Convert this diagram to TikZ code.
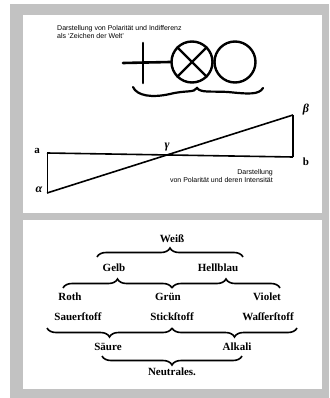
\documentclass[tikz,border=0pt]{standalone}
\usepackage{fontspec}
\setsansfont{Liberation Sans}
\newfontfamily\oldface{Liberation Serif}
\usetikzlibrary{decorations.pathreplacing}
\definecolor{framegray}{RGB}{194,194,194}

\tikzset{
  caption/.style={font=\sffamily\fontsize{7}{7.6}\selectfont, inner sep=0pt},
  frak/.style={font=\oldface\bfseries\fontsize{11}{12}\selectfont, inner sep=0pt},
  pointlabel/.style={font=\oldface\bfseries\fontsize{11}{11}\selectfont, inner sep=0pt},
  greeklabel/.style={font=\oldface\bfseries\itshape\fontsize{12}{12}\selectfont, inner sep=0pt},
  ink/.style={line width=2.6pt, line cap=round, line join=round},
  upbrace/.style={decorate, decoration={brace, amplitude=9pt}, line width=1.6pt},
  downbrace/.style={decorate, decoration={brace, amplitude=9pt, mirror}, line width=1.6pt}
}

\begin{document}
\begin{tikzpicture}[x=1pt, y=-1pt]
\useasboundingbox (0,0) rectangle (329,398);
\fill[white] (0,0) rectangle (329,398);
\fill[framegray] (10,4) rectangle (329,398);
\fill[white] (23,15) rectangle (322,213);
\fill[white] (23,220) rectangle (322,389);

\node[caption, align=left, anchor=north west] (welttext) at (57,25.5) {Darstellung von Polarität und Indifferenz\\als `Zeichen der Welt'};
\draw[ink] (123,63) -- (170,62);
\draw[ink] (143,43) -- (143,83);
\node[circle, draw, line width=2.4pt, minimum size=41pt, inner sep=0pt] (xcirc) at (192,62) {};
\node[circle, draw, line width=2.4pt, minimum size=41pt, inner sep=0pt] (ocirc) at (235,62) {};
\draw[line width=2.2pt] (xcirc.45) -- (xcirc.225);
\draw[line width=2.2pt] (xcirc.135) -- (xcirc.315);
\draw[line width=2.2pt, line cap=round] (133,87) .. controls (137,96) and (152,98) .. (170,94) .. controls (186,90) and (194,93) .. (197,88) .. controls (201,93) and (210,91) .. (228,92) .. controls (248,94) and (259,95) .. (263,88);

\coordinate (pa) at (47,153);
\coordinate (pb) at (293,157);
\coordinate (palpha) at (47,193);
\coordinate (pbeta) at (293,115);
\draw[line width=0.9pt] (pa) -- (palpha);
\draw[line width=1.6pt] (pa) -- (pb);
\draw[line width=1.6pt] (palpha) -- (pbeta);
\draw[line width=2.8pt] (pbeta) -- (pb);
\node[pointlabel] (la) at (37,151) {a};
\node[pointlabel] (lb) at (306,162) {b};
\node[greeklabel] (lalpha) at (39,190) {α};
\node[greeklabel] (lbeta) at (306,110) {β};
\node[greeklabel] (lgamma) at (167,147) {γ};
\node[caption, align=right, anchor=north east] (intenstext) at (273,169.5) {Darstellung\\von Polarität und deren Intensität};

\node[frak] (weiss) at (172,239) {Weiß};
\node[frak] (gelb) at (114,268) {Gelb};
\node[frak] (hellblau) at (218,268) {Hellblau};
\node[frak] (roth) at (70,297) {Roth};
\node[frak] (gruen) at (168,297) {Grün};
\node[frak] (violet) at (267,297) {Violet};
\node[frak] (sauer) at (78,317) {Sauerſtoff};
\node[frak] (stick) at (172,317) {Stickſtoff};
\node[frak] (wasser) at (268,317) {Waſſerſtoff};
\node[frak] (saeure) at (108,347) {Säure};
\node[frak] (alkali) at (237,347) {Alkali};
\node[frak] (neutral) at (172,372) {Neutrales.};

\coordinate (w1) at (97,257);
\coordinate (w2) at (243,257);
\coordinate (g1) at (63,288);
\coordinate (g2) at (172,288);
\coordinate (g3) at (280,288);
\coordinate (s1) at (47,328);
\coordinate (s2) at (172,328);
\coordinate (s3) at (297,328);
\coordinate (n1) at (102,356);
\coordinate (n2) at (242,356);
\draw[upbrace] (w1) -- (w2);
\draw[upbrace] (g1) -- (g2);
\draw[upbrace] (g2) -- (g3);
\draw[downbrace] (s1) -- (s2);
\draw[downbrace] (s2) -- (s3);
\draw[downbrace] (n1) -- (n2);
\end{tikzpicture}
\end{document}
